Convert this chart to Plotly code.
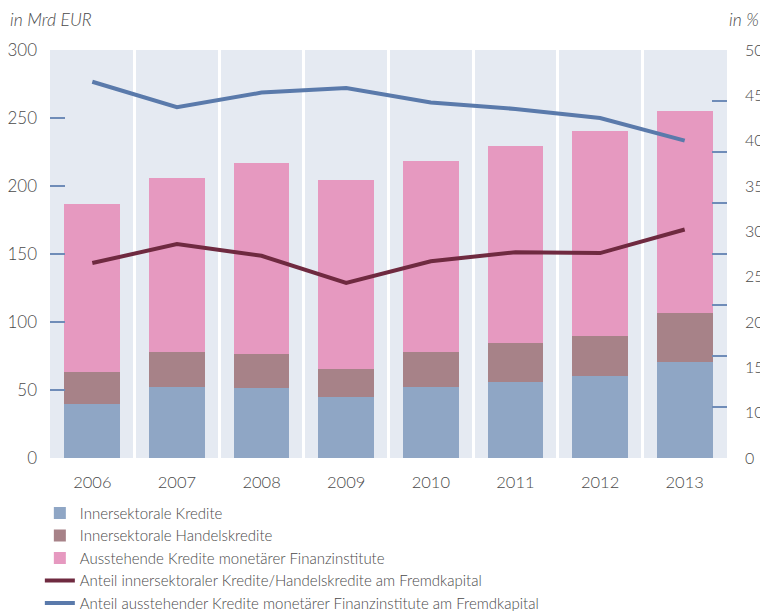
import plotly.graph_objects as go

years = ["2006", "2007", "2008", "2009", "2010", "2011", "2012", "2013"]
innersektorale_kredite = [39.7, 52.0, 51.2, 44.6, 52.0, 55.9, 60.5, 70.4]
handelskredite = [23.8, 26.2, 25.5, 20.6, 25.7, 28.7, 29.5, 36.2]
ausstehende_kredite = [123.3, 127.8, 140.0, 139.0, 140.9, 144.8, 150.4, 148.5]
anteil_innersektoral = [26.5, 28.6, 27.3, 24.3, 26.7, 27.7, 27.6, 30.2]
anteil_ausstehend = [46.5, 43.7, 45.3, 45.8, 44.2, 43.5, 42.5, 40.0]

left_ticks = [0, 50, 100, 150, 200, 250, 300]
right_tickvals = [5, 10, 15, 20, 25, 30, 35, 40, 45, 50]
right_ticktext = ["0", "10", "15", "20", "25", "30", "35", "40", "45", "50"]

names = [
    "Innersektorale Kredite",
    "Innersektorale Handelskredite",
    "Ausstehende Kredite monetärer Finanzinstitute",
    "Anteil innersektoraler Kredite/Handelskredite am Fremdkapital",
    "Anteil ausstehender Kredite monetärer Finanzinstitute am Fremdkapital",
]

FONT = "Lato"
TXT = "#4a4a4a"
TICKC = "#6f8cb8"
W = 300

fig = go.Figure()
fig.add_trace(go.Bar(x=years, y=innersektorale_kredite, name=names[0],
                     marker=dict(color="#8fa6c5", line=dict(width=0))))
fig.add_trace(go.Bar(x=years, y=handelskredite, name=names[1],
                     marker=dict(color="#a78288", line=dict(width=0))))
fig.add_trace(go.Bar(x=years, y=ausstehende_kredite, name=names[2],
                     marker=dict(color="#e699c0", line=dict(width=0))))
fig.add_trace(go.Scatter(x=years, y=anteil_innersektoral, name=names[3], yaxis="y2",
                         mode="lines", line=dict(color="#6f2a40", width=4)))
fig.add_trace(go.Scatter(x=years, y=anteil_ausstehend, name=names[4], yaxis="y2",
                         mode="lines", line=dict(color="#5a7aab", width=4)))

# the page body has an 8px margin, so the figure is sized/offset to compensate
fig.update_layout(
    width=760, height=603,
    margin=dict(l=42, r=41, t=42, b=153, autoexpand=False),
    paper_bgcolor="white",
    plot_bgcolor="#e5eaf2",
    barmode="stack",
    bargap=0.34,
    font=dict(family=FONT, color=TXT, size=16, weight=W),
    showlegend=True,
    legend=dict(
        orientation="v", traceorder="normal",
        x=-0.015, xanchor="left", y=-0.095, yanchor="top",
        font=dict(family=FONT, size=15, color="#4a4a4a", weight=W),
        itemwidth=30, tracegroupgap=0, bgcolor="rgba(0,0,0,0)",
    ),
    xaxis=dict(
        type="category", tickson="boundaries", showgrid=True, gridcolor="white",
        gridwidth=2.5, ticks="", showline=False, zeroline=False,
        tickfont=dict(size=16.5, color=TXT, weight=W), ticklabelstandoff=12,
    ),
    yaxis=dict(
        range=[0, 300], tickvals=left_ticks, showgrid=False, zeroline=False,
        ticks="inside", ticklen=15, tickwidth=2, tickcolor=TICKC,
        tickfont=dict(size=17, color=TXT, weight=W), ticklabelstandoff=12, showline=False,
    ),
    yaxis2=dict(
        overlaying="y", side="right", range=[5, 50], tickvals=right_tickvals,
        ticktext=right_ticktext, showgrid=False, zeroline=False, ticks="",
        tickfont=dict(size=16, color=TXT, weight=W), ticklabelstandoff=17, showline=False,
    ),
    yaxis3=dict(
        overlaying="y", side="right", anchor="x", range=[0, 8], dtick=1,
        showgrid=False, zeroline=False, ticks="inside", ticklen=15, tickwidth=2,
        tickcolor=TICKC, showticklabels=False, showline=False,
    ),
    annotations=[
        dict(text="<i>in Mrd EUR</i>", xref="paper", yref="paper", x=-0.062, y=1.075,
             xanchor="left", yanchor="middle", showarrow=False,
             font=dict(family=FONT, size=17.5, color=TXT, weight=W)),
        dict(text="<i>in %</i>", xref="paper", yref="paper", x=1.05, y=1.075,
             xanchor="right", yanchor="middle", showarrow=False,
             font=dict(family=FONT, size=17.5, color=TXT, weight=W)),
    ],
)

# invisible helper trace so the right-hand tick-mark axis is drawn
fig.add_trace(go.Scatter(x=[years[0]], y=[0], yaxis="y3", mode="markers",
                         marker=dict(opacity=0), showlegend=False, hoverinfo="skip"))

fig.write_html("out.html")
